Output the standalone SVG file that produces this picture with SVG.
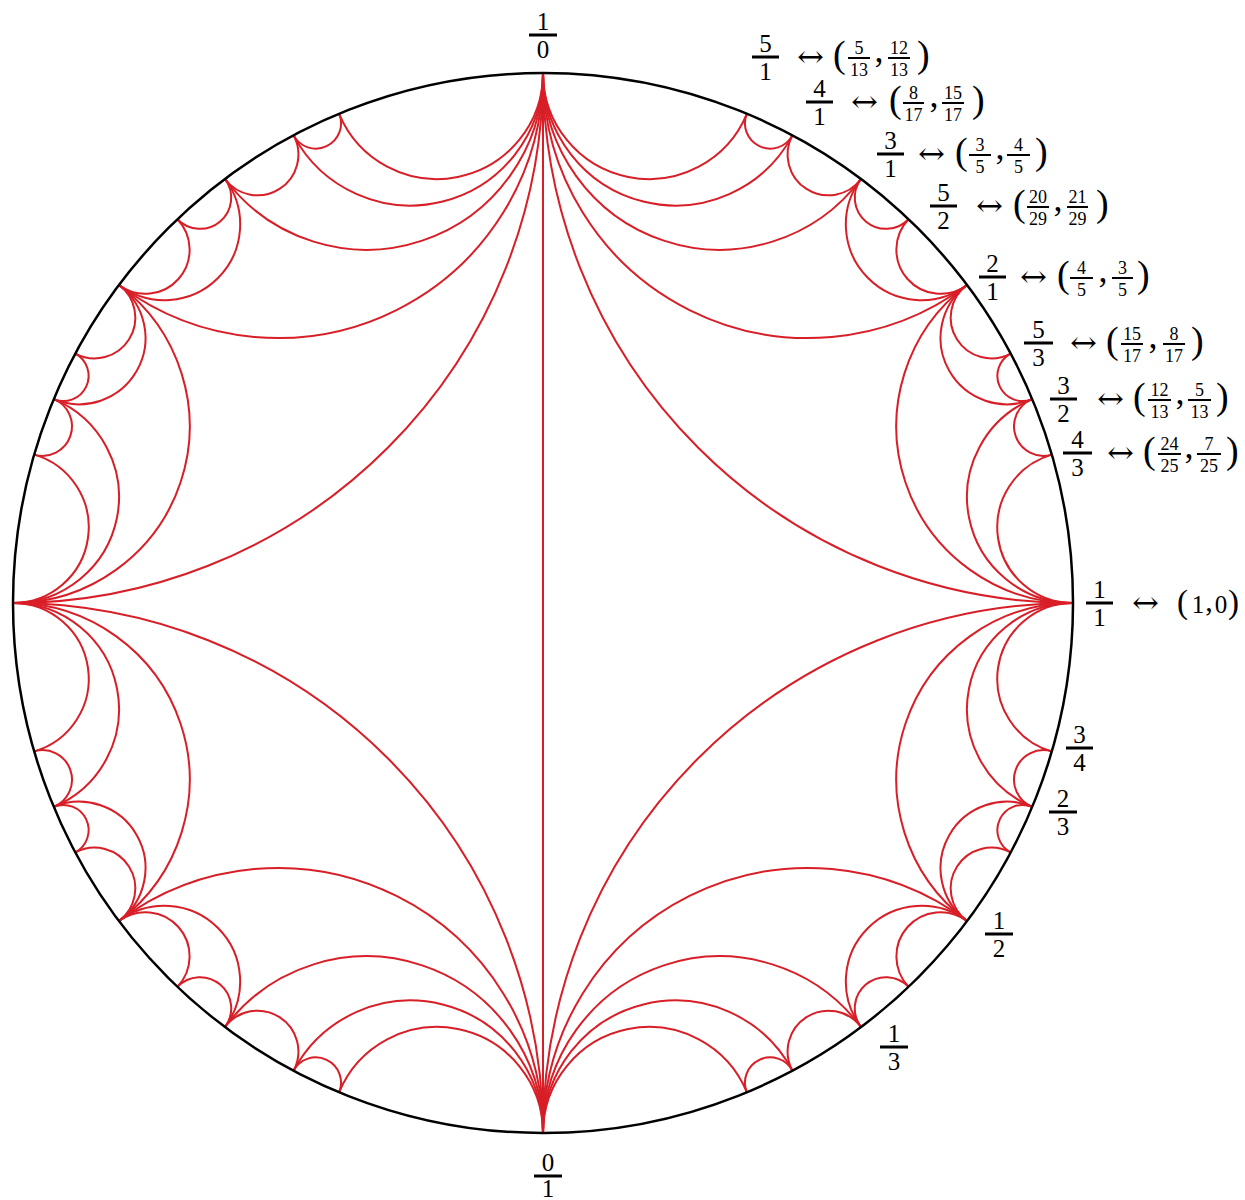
<svg xmlns="http://www.w3.org/2000/svg" width="1245" height="1200" viewBox="0 0 1245 1200">
<style>
.e{fill:none;stroke:#d81e27;stroke-width:2}
.t{font-family:"Liberation Serif","Times New Roman",serif;fill:#000}
.b{font-size:25px;text-anchor:middle}
.s{font-size:18px;text-anchor:middle}
.p{font-size:38px}
.a{font-family:"DejaVu Serif",serif;font-size:30px}
.c{font-size:36px;text-anchor:middle}
</style>
<rect width="1245" height="1200" fill="#fff"/>
<g id="connectors">
<path class="e" d="M543,73V1133"/>
<path class="e" d="M1073,603A530,530 0 0 1 543,73"/>
<path class="e" d="M967,285A265,265 0 0 1 543,73"/>
<path class="e" d="M861,179A176.67,176.67 0 0 1 543,73"/>
<path class="e" d="M792.41,135.35A132.5,132.5 0 0 1 543,73"/>
<path class="e" d="M746.85,113.77A106,106 0 0 1 543,73"/>
<path class="e" d="M792.41,135.35A25.24,25.24 0 0 1 746.85,113.77"/>
<path class="e" d="M861,179A40.77,40.77 0 0 1 792.41,135.35"/>
<path class="e" d="M908.52,219.21A31.18,31.18 0 0 1 861,179"/>
<path class="e" d="M967,285A75.71,75.71 0 0 1 861,179"/>
<path class="e" d="M967,285A44.17,44.17 0 0 1 908.52,219.21"/>
<path class="e" d="M1010.65,353.59A40.77,40.77 0 0 1 967,285"/>
<path class="e" d="M1032.23,399.15A66.25,66.25 0 0 1 967,285"/>
<path class="e" d="M1032.23,399.15A25.24,25.24 0 0 1 1010.65,353.59"/>
<path class="e" d="M1051.8,454.6A29.44,29.44 0 0 1 1032.23,399.15"/>
<path class="e" d="M1073,603A106,106 0 0 1 1032.23,399.15"/>
<path class="e" d="M1073,603A75.71,75.71 0 0 1 1051.8,454.6"/>
<path class="e" d="M1073,603A176.67,176.67 0 0 1 967,285"/>
<path class="e" d="M1073,603A530,530 0 0 0 543,1133"/>
<path class="e" d="M967,921A265,265 0 0 0 543,1133"/>
<path class="e" d="M861,1027A176.67,176.67 0 0 0 543,1133"/>
<path class="e" d="M792.41,1070.65A132.5,132.5 0 0 0 543,1133"/>
<path class="e" d="M746.85,1092.23A106,106 0 0 0 543,1133"/>
<path class="e" d="M792.41,1070.65A25.24,25.24 0 0 0 746.85,1092.23"/>
<path class="e" d="M861,1027A40.77,40.77 0 0 0 792.41,1070.65"/>
<path class="e" d="M908.52,986.79A31.18,31.18 0 0 0 861,1027"/>
<path class="e" d="M967,921A75.71,75.71 0 0 0 861,1027"/>
<path class="e" d="M967,921A44.17,44.17 0 0 0 908.52,986.79"/>
<path class="e" d="M1010.65,852.41A40.77,40.77 0 0 0 967,921"/>
<path class="e" d="M1032.23,806.85A66.25,66.25 0 0 0 967,921"/>
<path class="e" d="M1032.23,806.85A25.24,25.24 0 0 0 1010.65,852.41"/>
<path class="e" d="M1051.8,751.4A29.44,29.44 0 0 0 1032.23,806.85"/>
<path class="e" d="M1073,603A106,106 0 0 0 1032.23,806.85"/>
<path class="e" d="M1073,603A75.71,75.71 0 0 0 1051.8,751.4"/>
<path class="e" d="M1073,603A176.67,176.67 0 0 0 967,921"/>
<path class="e" d="M13,603A530,530 0 0 0 543,73"/>
<path class="e" d="M119,285A265,265 0 0 0 543,73"/>
<path class="e" d="M225,179A176.67,176.67 0 0 0 543,73"/>
<path class="e" d="M293.59,135.35A132.5,132.5 0 0 0 543,73"/>
<path class="e" d="M339.15,113.77A106,106 0 0 0 543,73"/>
<path class="e" d="M293.59,135.35A25.24,25.24 0 0 0 339.15,113.77"/>
<path class="e" d="M225,179A40.77,40.77 0 0 0 293.59,135.35"/>
<path class="e" d="M177.48,219.21A31.18,31.18 0 0 0 225,179"/>
<path class="e" d="M119,285A75.71,75.71 0 0 0 225,179"/>
<path class="e" d="M119,285A44.17,44.17 0 0 0 177.48,219.21"/>
<path class="e" d="M75.35,353.59A40.77,40.77 0 0 0 119,285"/>
<path class="e" d="M53.77,399.15A66.25,66.25 0 0 0 119,285"/>
<path class="e" d="M53.77,399.15A25.24,25.24 0 0 0 75.35,353.59"/>
<path class="e" d="M34.2,454.6A29.44,29.44 0 0 0 53.77,399.15"/>
<path class="e" d="M13,603A106,106 0 0 0 53.77,399.15"/>
<path class="e" d="M13,603A75.71,75.71 0 0 0 34.2,454.6"/>
<path class="e" d="M13,603A176.67,176.67 0 0 0 119,285"/>
<path class="e" d="M13,603A530,530 0 0 1 543,1133"/>
<path class="e" d="M119,921A265,265 0 0 1 543,1133"/>
<path class="e" d="M225,1027A176.67,176.67 0 0 1 543,1133"/>
<path class="e" d="M293.59,1070.65A132.5,132.5 0 0 1 543,1133"/>
<path class="e" d="M339.15,1092.23A106,106 0 0 1 543,1133"/>
<path class="e" d="M293.59,1070.65A25.24,25.24 0 0 1 339.15,1092.23"/>
<path class="e" d="M225,1027A40.77,40.77 0 0 1 293.59,1070.65"/>
<path class="e" d="M177.48,986.79A31.18,31.18 0 0 1 225,1027"/>
<path class="e" d="M119,921A75.71,75.71 0 0 1 225,1027"/>
<path class="e" d="M119,921A44.17,44.17 0 0 1 177.48,986.79"/>
<path class="e" d="M75.35,852.41A40.77,40.77 0 0 1 119,921"/>
<path class="e" d="M53.77,806.85A66.25,66.25 0 0 1 119,921"/>
<path class="e" d="M53.77,806.85A25.24,25.24 0 0 1 75.35,852.41"/>
<path class="e" d="M34.2,751.4A29.44,29.44 0 0 1 53.77,806.85"/>
<path class="e" d="M13,603A106,106 0 0 1 53.77,806.85"/>
<path class="e" d="M13,603A75.71,75.71 0 0 1 34.2,751.4"/>
<path class="e" d="M13,603A176.67,176.67 0 0 1 119,921"/>
</g>
<g id="circle"><circle cx="543" cy="603" r="530" fill="none" stroke="#000" stroke-width="2.5"/></g>
<g class="t">
<g id="n-1-0"><rect x="529" y="33.5" width="28" height="3"/><text class="b" x="543" y="30">1</text><text class="b" x="543" y="58">0</text></g>
<g id="n-0-1"><rect x="534" y="1174.5" width="28" height="3"/><text class="b" x="548" y="1171">0</text><text class="b" x="548" y="1197">1</text></g>
<g id="n-3-4"><rect x="1066" y="746.5" width="27" height="3"/><text class="b" x="1079.5" y="743">3</text><text class="b" x="1079.5" y="771">4</text></g>
<g id="n-2-3"><rect x="1049" y="810.5" width="28" height="3"/><text class="b" x="1063" y="807">2</text><text class="b" x="1063" y="835">3</text></g>
<g id="n-1-2"><rect x="985" y="932.5" width="28" height="3"/><text class="b" x="999" y="929">1</text><text class="b" x="999" y="957">2</text></g>
<g id="n-1-3"><rect x="880" y="1045.5" width="28" height="3"/><text class="b" x="894" y="1042">1</text><text class="b" x="894" y="1070">3</text></g>
<g id="n-1-1"><rect x="1086" y="601.5" width="27" height="3"/><text class="b" x="1099.5" y="598">1</text><text class="b" x="1099.5" y="626">1</text>
<text class="a" x="1132" y="613" textLength="27" lengthAdjust="spacingAndGlyphs">↔</text>
<text class="p" x="1177" y="613" style="font-size:33px">(</text><text class="b" x="1198" y="613">1</text><text class="c" x="1209" y="611" style="font-size:30px">,</text><text class="b" x="1221" y="613">0</text><text class="p" x="1228" y="613" style="font-size:33px">)</text></g>
<g id="n-5-1"><rect x="752" y="55.5" width="27" height="3"/><text class="b" x="765.5" y="52">5</text><text class="b" x="765.5" y="80">1</text>
<text class="a" x="797" y="67" textLength="27" lengthAdjust="spacingAndGlyphs">↔</text>
<text class="p" x="833" y="67">(</text><rect x="848" y="57" width="22" height="2"/><text class="s" x="859" y="54">5</text><text class="s" x="859" y="76">13</text>
<text class="c" x="879" y="62">,</text><rect x="888" y="57" width="22" height="2"/><text class="s" x="899" y="54">12</text><text class="s" x="899" y="76">13</text><text class="p" x="917" y="67">)</text></g>
<g id="n-4-1"><rect x="806" y="100.5" width="27" height="3"/><text class="b" x="819.5" y="97">4</text><text class="b" x="819.5" y="125">1</text>
<text class="a" x="851" y="112" textLength="27" lengthAdjust="spacingAndGlyphs">↔</text>
<text class="p" x="889" y="112">(</text><rect x="903" y="102" width="21" height="2"/><text class="s" x="913.5" y="99">8</text><text class="s" x="913.5" y="121">17</text>
<text class="c" x="934" y="107">,</text><rect x="942" y="102" width="22" height="2"/><text class="s" x="953" y="99">15</text><text class="s" x="953" y="121">17</text><text class="p" x="972" y="112">)</text></g>
<g id="n-3-1"><rect x="877" y="152.5" width="27" height="3"/><text class="b" x="890.5" y="149">3</text><text class="b" x="890.5" y="177">1</text>
<text class="a" x="918" y="164" textLength="27" lengthAdjust="spacingAndGlyphs">↔</text>
<text class="p" x="955" y="164">(</text><rect x="969" y="154" width="22" height="2"/><text class="s" x="980" y="151">3</text><text class="s" x="980" y="173">5</text>
<text class="c" x="1000" y="159">,</text><rect x="1007" y="154" width="23" height="2"/><text class="s" x="1018.5" y="151">4</text><text class="s" x="1018.5" y="173">5</text><text class="p" x="1035" y="164">)</text></g>
<g id="n-5-2"><rect x="930" y="204.5" width="27" height="3"/><text class="b" x="943.5" y="201">5</text><text class="b" x="943.5" y="229">2</text>
<text class="a" x="976" y="216" textLength="27" lengthAdjust="spacingAndGlyphs">↔</text>
<text class="p" x="1013" y="216">(</text><rect x="1027" y="206" width="22" height="2"/><text class="s" x="1038" y="203">20</text><text class="s" x="1038" y="225">29</text>
<text class="c" x="1058" y="211">,</text><rect x="1067" y="206" width="21" height="2"/><text class="s" x="1077.5" y="203">21</text><text class="s" x="1077.5" y="225">29</text><text class="p" x="1096" y="216">)</text></g>
<g id="n-2-1"><rect x="979" y="275.5" width="27" height="3"/><text class="b" x="992.5" y="272">2</text><text class="b" x="992.5" y="300">1</text>
<text class="a" x="1020" y="287" textLength="27" lengthAdjust="spacingAndGlyphs">↔</text>
<text class="p" x="1057" y="287">(</text><rect x="1070" y="277" width="23" height="2"/><text class="s" x="1081.5" y="274">4</text><text class="s" x="1081.5" y="296">5</text>
<text class="c" x="1103" y="282">,</text><rect x="1112" y="277" width="21" height="2"/><text class="s" x="1122.5" y="274">3</text><text class="s" x="1122.5" y="296">5</text><text class="p" x="1137" y="287">)</text></g>
<g id="n-5-3"><rect x="1024" y="341.5" width="29" height="3"/><text class="b" x="1038.5" y="338">5</text><text class="b" x="1038.5" y="366">3</text>
<text class="a" x="1070" y="353" textLength="27" lengthAdjust="spacingAndGlyphs">↔</text>
<text class="p" x="1106" y="353">(</text><rect x="1121" y="343" width="22" height="2"/><text class="s" x="1132" y="340">15</text><text class="s" x="1132" y="362">17</text>
<text class="c" x="1153" y="348">,</text><rect x="1163" y="343" width="22" height="2"/><text class="s" x="1174" y="340">8</text><text class="s" x="1174" y="362">17</text><text class="p" x="1191" y="353">)</text></g>
<g id="n-3-2"><rect x="1050" y="397.5" width="27" height="3"/><text class="b" x="1063.5" y="394">3</text><text class="b" x="1063.5" y="422">2</text>
<text class="a" x="1097" y="409" textLength="27" lengthAdjust="spacingAndGlyphs">↔</text>
<text class="p" x="1133" y="409">(</text><rect x="1148" y="399" width="23" height="2"/><text class="s" x="1159.5" y="396">12</text><text class="s" x="1159.5" y="418">13</text>
<text class="c" x="1180" y="404">,</text><rect x="1188" y="399" width="23" height="2"/><text class="s" x="1199.5" y="396">5</text><text class="s" x="1199.5" y="418">13</text><text class="p" x="1216" y="409">)</text></g>
<g id="n-4-3"><rect x="1063" y="451.5" width="29" height="3"/><text class="b" x="1077.5" y="448">4</text><text class="b" x="1077.5" y="476">3</text>
<text class="a" x="1107" y="463" textLength="27" lengthAdjust="spacingAndGlyphs">↔</text>
<text class="p" x="1143" y="463">(</text><rect x="1158" y="453" width="23" height="2"/><text class="s" x="1169.5" y="450">24</text><text class="s" x="1169.5" y="472">25</text>
<text class="c" x="1189" y="458">,</text><rect x="1197" y="453" width="24" height="2"/><text class="s" x="1209" y="450">7</text><text class="s" x="1209" y="472">25</text><text class="p" x="1226" y="463">)</text></g>
</g>
</svg>
